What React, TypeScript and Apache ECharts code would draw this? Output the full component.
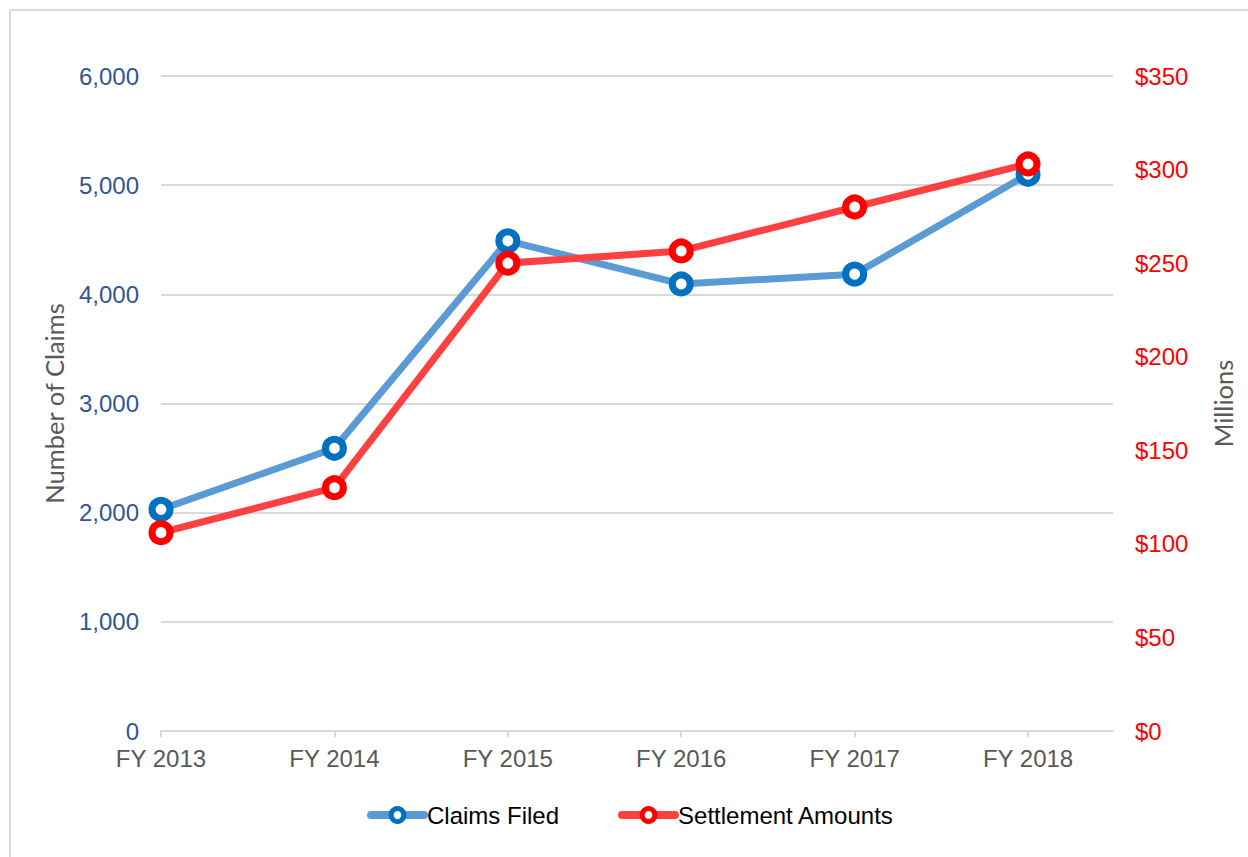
import React, { useEffect, useRef } from "react";
import * as echarts from "echarts";

const categories = ["FY 2013", "FY 2014", "FY 2015", "FY 2016", "FY 2017", "FY 2018"];
const claimsFiled = [2030, 2590, 4490, 4095, 4185, 5100];
const settlementAmounts = [106, 130, 250, 256.5, 280, 303];
const leftTicks = { min: 0, max: 6000, interval: 1000 };
const rightTicks = { min: 0, max: 350, interval: 50 };

const LABEL_FONT = "'Liberation Sans', Arial, sans-serif";
const TITLE_FONT = "Lato, 'Open Sans', sans-serif";

export default function App() {
  const ref = useRef<HTMLDivElement>(null);
  useEffect(() => {
    if (!ref.current) return;
    const chart = echarts.init(ref.current, null, { renderer: "svg" });
    const idx = categories.map((_, i) => i);
    chart.setOption({
      animation: false,
      backgroundColor: "#ffffff",
      graphic: [
        {
          type: "rect",
          shape: { x: 10, y: 10, width: 1300, height: 900 },
          style: { fill: "none", stroke: "#D9D9D9", lineWidth: 2 },
          silent: true,
        },
      ],
      grid: { left: 161, right: 135, top: 76, bottom: 126 },
      legend: {
        left: 367,
        top: 803,
        padding: 0,
        itemWidth: 53,
        itemHeight: 16,
        itemGap: 59,
        textStyle: { fontFamily: LABEL_FONT, fontSize: 24, color: "#000000", padding: [0, 0, 0, -2] },
        data: [
          {
            name: "Claims Filed",
            lineStyle: { width: 8, color: "#5B9BD5", cap: "round" },
            itemStyle: { color: "#ffffff", borderColor: "#0070C0", borderWidth: 5 },
          },
          {
            name: "Settlement Amounts",
            lineStyle: { width: 8, color: "#FF4040", cap: "round" },
            itemStyle: { color: "#ffffff", borderColor: "#FF0000", borderWidth: 5 },
          },
        ],
      },
      xAxis: {
        type: "value",
        min: 0,
        max: 5.49,
        interval: 1,
        axisLine: { show: true, lineStyle: { color: "#D9D9D9", width: 2 } },
        axisTick: { show: true, length: 6, customValues: idx, lineStyle: { color: "#D9D9D9", width: 2 } },
        axisLabel: {
          customValues: idx,
          formatter: (v: number) => categories[Math.round(v)] ?? "",
          color: "#595959",
          fontFamily: LABEL_FONT,
          fontSize: 24,
          margin: 15,
        },
        splitLine: { show: false },
      },
      yAxis: [
        {
          type: "value",
          ...leftTicks,
          name: "Number of Claims",
          nameLocation: "middle",
          nameRotate: 90,
          nameGap: 94,
          nameTextStyle: { fontFamily: TITLE_FONT, fontSize: 25.5, color: "#595959" },
          axisLine: { show: false },
          axisTick: { show: false },
          axisLabel: {
            color: "#2F5597",
            fontFamily: LABEL_FONT,
            fontSize: 24,
            margin: 22,
            formatter: (v: number) => v.toLocaleString("en-US"),
          },
          splitLine: { show: true, lineStyle: { color: "#D9D9D9", width: 2 } },
        },
        {
          type: "value",
          ...rightTicks,
          name: "Millions",
          nameLocation: "middle",
          nameRotate: 90,
          nameGap: 97,
          nameTextStyle: { fontFamily: TITLE_FONT, fontSize: 25.5, color: "#595959" },
          axisLine: { show: false },
          axisTick: { show: false },
          axisLabel: {
            color: "#FF0000",
            fontFamily: LABEL_FONT,
            fontSize: 24,
            margin: 22,
            formatter: (v: number) => "$" + v,
          },
          splitLine: { show: false },
        },
      ],
      series: [
        {
          name: "Claims Filed",
          type: "line",
          yAxisIndex: 0,
          data: claimsFiled.map((v, i) => [i, v]),
          symbol: "circle",
          symbolSize: 18,
          lineStyle: { color: "#5B9BD5", width: 7 },
          itemStyle: { color: "#ffffff", borderColor: "#0070C0", borderWidth: 7 },
          color: "#5B9BD5",
        },
        {
          name: "Settlement Amounts",
          type: "line",
          yAxisIndex: 1,
          data: settlementAmounts.map((v, i) => [i, v]),
          symbol: "circle",
          symbolSize: 18,
          lineStyle: { color: "#FF4040", width: 7 },
          itemStyle: { color: "#ffffff", borderColor: "#FF0000", borderWidth: 7 },
          color: "#FF4040",
        },
      ],
    });
    return () => chart.dispose();
  }, []);
  return (
    <div
      ref={ref}
      style={{ position: "fixed", left: 0, top: 0, width: 1248, height: 857 }}
    />
  );
}
